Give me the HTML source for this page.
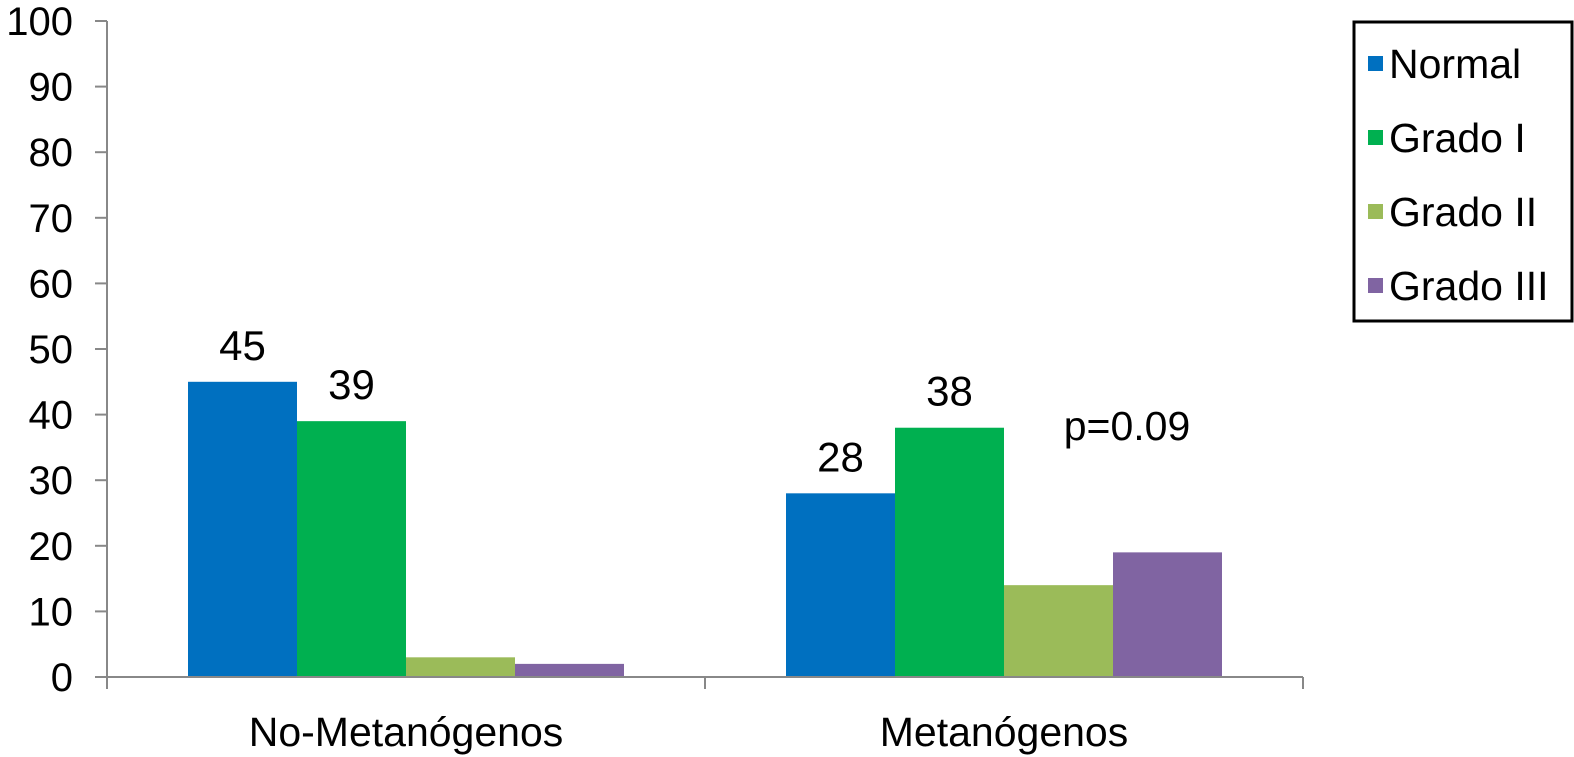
<!DOCTYPE html>
<html><head><meta charset="utf-8"><style>
html,body{margin:0;padding:0;background:#fff;width:1574px;height:757px;overflow:hidden}
text{font-family:"Liberation Sans",Arial,sans-serif;fill:#000}
</style></head><body>
<svg id="chart" width="1574" height="757" xmlns="http://www.w3.org/2000/svg"></svg>
<script>
const categories = ["No-Metanógenos", "Metanógenos"];
const seriesNames = ["Normal", "Grado I", "Grado II", "Grado III"];
const normalValues = [45, 28];
const grado1Values = [39, 38];
const grado2Values = [3, 14];
const grado3Values = [2, 19];
const valueLabels = [["45","39","",""],["28","38","",""]];
const yTicks = [0,10,20,30,40,50,60,70,80,90,100];

const colors = ["#0070c0","#00b050","#9bbb59","#8064a2"];
const series = [normalValues, grado1Values, grado2Values, grado3Values];
const svg = document.getElementById('chart');
const NS = "http://www.w3.org/2000/svg";
const x0 = 107, x1 = 1303, yBase = 677, yTop = 21;
const y = v => yBase - (v / 100) * (yBase - yTop);
const catW = (x1 - x0) / categories.length;
const barW = 109;
const xBar = (ci, si) => x0 + ci * catW + (catW - barW * series.length) / 2 + si * barW;
function el(tag, attrs, txt) {
  const e = document.createElementNS(NS, tag);
  for (const k in attrs) e.setAttribute(k, attrs[k]);
  if (txt !== undefined) e.textContent = txt;
  svg.appendChild(e);
  return e;
}
categories.forEach((c, ci) => {
  series.forEach((s, si) => {
    const r = el('rect', {x: xBar(ci, si), y: y(s[ci]), width: barW, height: yBase - y(s[ci]), fill: colors[si]});
    
    
    if (valueLabels[ci][si]) {
      const t = el('text', {x: xBar(ci, si) + barW / 2, y: y(s[ci]) - 22, 'text-anchor': 'middle', 'font-size': 42}, valueLabels[ci][si]);
      
      
    }
  });
  const cl = el('text', {x: x0 + ci * catW + catW / 2, y: 746, 'text-anchor': 'middle', 'font-size': 41}, c);
  
  
});
const ya = el('line', {x1: x0, y1: yTop, x2: x0, y2: yBase, stroke: '#888', 'stroke-width': 2});


yTicks.forEach(v => {
  el('line', {x1: 95, y1: y(v), x2: x0, y2: y(v), stroke: '#888', 'stroke-width': 2});
  const t = el('text', {x: 73, y: y(v) + 14, 'text-anchor': 'end', 'font-size': 40}, String(v));
  
  
});
const xa = el('line', {x1: x0, y1: yBase, x2: x1, y2: yBase, stroke: '#888', 'stroke-width': 2});


for (let i = 0; i <= categories.length; i++) {
  el('line', {x1: x0 + i * catW, y1: yBase, x2: x0 + i * catW, y2: 689, stroke: '#888', 'stroke-width': 2});
}
const p = el('text', {x: 1127, y: 440, 'text-anchor': 'middle', 'font-size': 41}, 'p=0.09');


const lb = el('rect', {x: 1354, y: 22, width: 218, height: 299, fill: 'none', stroke: '#000', 'stroke-width': 3});


seriesNames.forEach((n, i) => {
  const cy = 63 + i * 74;
  el('rect', {x: 1368, y: cy - 7, width: 15, height: 15, fill: colors[i]});
  const t = el('text', {x: 1389, y: cy + 15, 'font-size': 41}, n);
  
  
});
</script>
</body></html>
